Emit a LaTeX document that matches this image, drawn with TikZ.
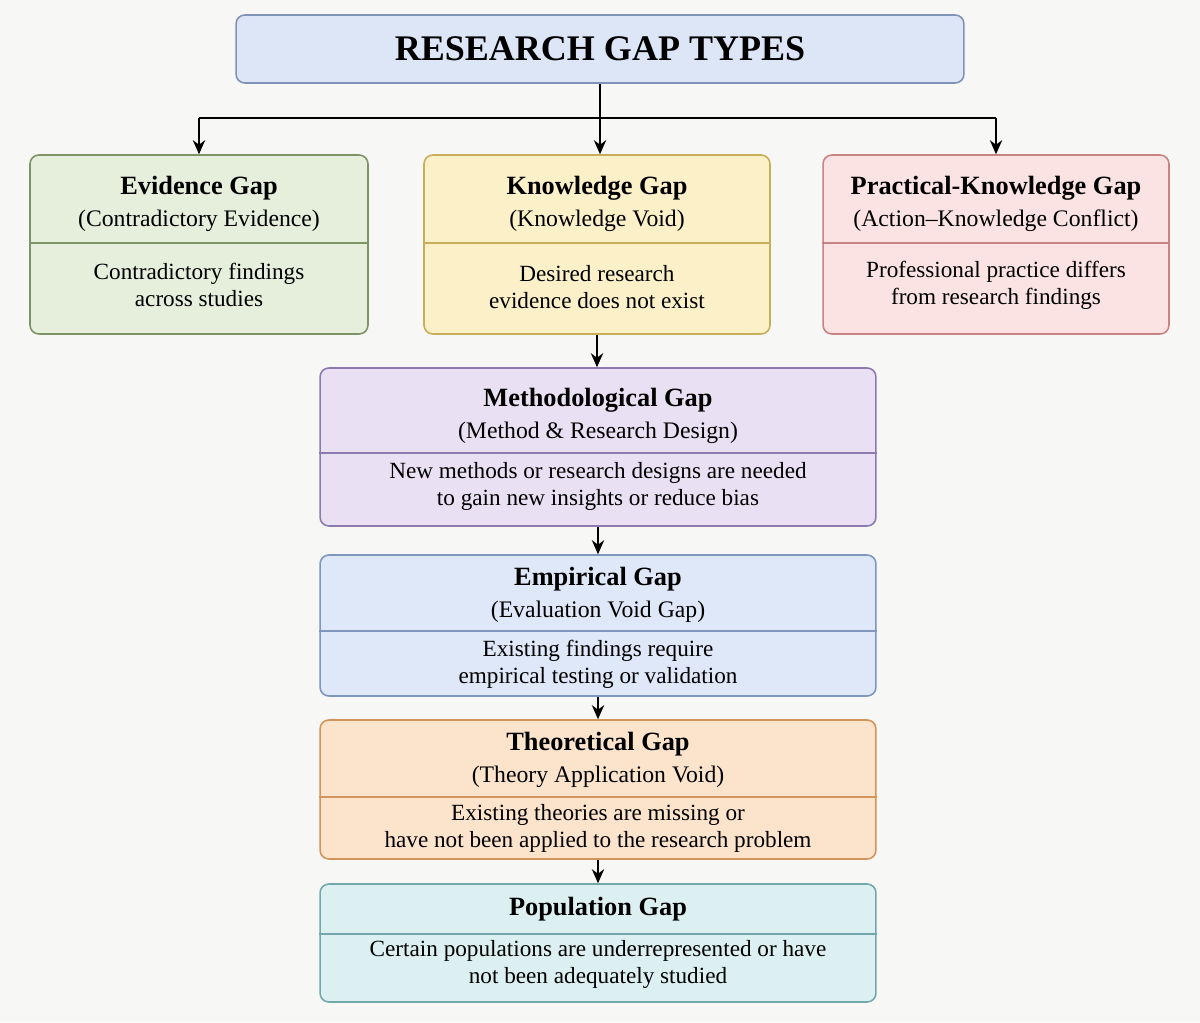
\documentclass[tikz,border=0pt]{standalone}
\usepackage{fontspec}
\setmainfont{Liberation Serif}
\usetikzlibrary{arrows.meta}

\definecolor{bgcol}{HTML}{F7F7F5}
\definecolor{titlefill}{HTML}{DDE6F7}\definecolor{titledraw}{HTML}{7F93B8}
\definecolor{evfill}{HTML}{E6EEDC}\definecolor{evdraw}{HTML}{7F9466}
\definecolor{knfill}{HTML}{FBF0C8}\definecolor{kndraw}{HTML}{C9AE5A}
\definecolor{prfill}{HTML}{FBE3E3}\definecolor{prdraw}{HTML}{C98383}
\definecolor{mefill}{HTML}{E9E1F3}\definecolor{medraw}{HTML}{8E7AAE}
\definecolor{emfill}{HTML}{DFE8F8}\definecolor{emdraw}{HTML}{7F96BD}
\definecolor{thfill}{HTML}{FCE3CC}\definecolor{thdraw}{HTML}{D3945A}
\definecolor{pofill}{HTML}{DDF0F1}\definecolor{podraw}{HTML}{72A8AC}

\newcommand{\gaptitle}[1]{{\fontsize{15}{18}\selectfont\bfseries #1}}

\tikzset{
  box/.style={draw=#1draw, fill=#1fill, line width=0.9pt, rounded corners=5pt, inner sep=0pt},
  head/.style={align=center, font=\fontsize{13.5}{18}\selectfont},
  body/.style={align=center, font=\fontsize{13.2}{15.4}\selectfont},
  link/.style={-{Stealth[length=8pt,width=7pt]}, line width=1.1pt},
}

\begin{document}
\begin{tikzpicture}[x=0.02cm,y=-0.02cm]

    % Background
    \fill[bgcol] (0,0) rectangle (1200,1022);
    \useasboundingbox (0,0) rectangle (1200,1022);

    % Title
    \node[box=title, minimum width=14.56cm, minimum height=1.36cm,
          font=\fontsize{20.5}{22}\selectfont\bfseries] (title) at (600,49) {RESEARCH GAP TYPES};

    % Top row boxes
    \node[box=ev, minimum width=6.76cm, minimum height=3.58cm] (ev) at (199,244.5) {};
    \node[box=kn, minimum width=6.92cm, minimum height=3.58cm] (kn) at (597,244.5) {};
    \node[box=pr, minimum width=6.92cm, minimum height=3.58cm] (pr) at (996,244.5) {};

    % Column boxes
    \node[box=me, minimum width=11.12cm, minimum height=3.16cm] (me) at (598,447) {};
    \node[box=em, minimum width=11.12cm, minimum height=2.82cm] (em) at (598,625.5) {};
    \node[box=th, minimum width=11.12cm, minimum height=2.78cm] (th) at (598,789.5) {};
    \node[box=po, minimum width=11.12cm, minimum height=2.36cm] (po) at (598,943) {};

    % Dividers
    \draw[evdraw, line width=0.8pt] (ev.west |- 0,243) -- (ev.east |- 0,243);
    \draw[kndraw, line width=0.8pt] (kn.west |- 0,243) -- (kn.east |- 0,243);
    \draw[prdraw, line width=0.8pt] (pr.west |- 0,243) -- (pr.east |- 0,243);
    \draw[medraw, line width=0.8pt] (me.west |- 0,453) -- (me.east |- 0,453);
    \draw[emdraw, line width=0.8pt] (em.west |- 0,631) -- (em.east |- 0,631);
    \draw[thdraw, line width=0.8pt] (th.west |- 0,797) -- (th.east |- 0,797);
    \draw[podraw, line width=0.8pt] (po.west |- 0,934) -- (po.east |- 0,934);

    % Headings
    \node[head] (evh) at (199,204) {\gaptitle{Evidence Gap}\\(Contradictory Evidence)};
    \node[head] (knh) at (597,204) {\gaptitle{Knowledge Gap}\\(Knowledge Void)};
    \node[head] (prh) at (996,204) {\gaptitle{Practical-Knowledge Gap}\\(Action–Knowledge Conflict)};
    \node[head] (meh) at (598,416) {\gaptitle{Methodological Gap}\\(Method \& Research Design)};
    \node[head] (emh) at (598,595) {\gaptitle{Empirical Gap}\\(Evaluation Void Gap)};
    \node[head] (thh) at (598,760) {\gaptitle{Theoretical Gap}\\(Theory Application Void)};
    \node[head] (poh) at (598,909) {\gaptitle{Population Gap}};

    % Descriptions
    \node[body] (evb) at (199,285) {Contradictory findings\\across studies};
    \node[body] (knb) at (597,287) {Desired research\\evidence does not exist};
    \node[body] (prb) at (996,285) {Professional practice differs\\from research findings};
    \node[body] (meb) at (598,486) {New methods or research designs are needed\\to gain new insights or reduce bias};
    \node[body] (emb) at (598,664) {Existing findings require\\empirical testing or validation};
    \node[body] (thb) at (598,828) {Existing theories are missing or\\have not been applied to the research problem};
    \node[body] (pob) at (598,964) {Certain populations are underrepresented or have\\not been adequately studied};

    % Connectors
    \coordinate (split) at (600,118);
    \draw[line width=1.1pt] (title.south) -- (split);
    \draw[line width=1.1pt] (ev.north |- split) -- (pr.north |- split);
    \draw[link] (ev.north |- split) -- (ev.north);
    \draw[link] (split) -- (kn.north -| split);
    \draw[link] (pr.north |- split) -- (pr.north);
    \draw[link] (kn.south) -- (me.north -| kn.south);
    \draw[link] (me.south) -- (em.north);
    \draw[link] (em.south) -- (th.north);
    \draw[link] (th.south) -- (po.north);

\end{tikzpicture}
\end{document}
